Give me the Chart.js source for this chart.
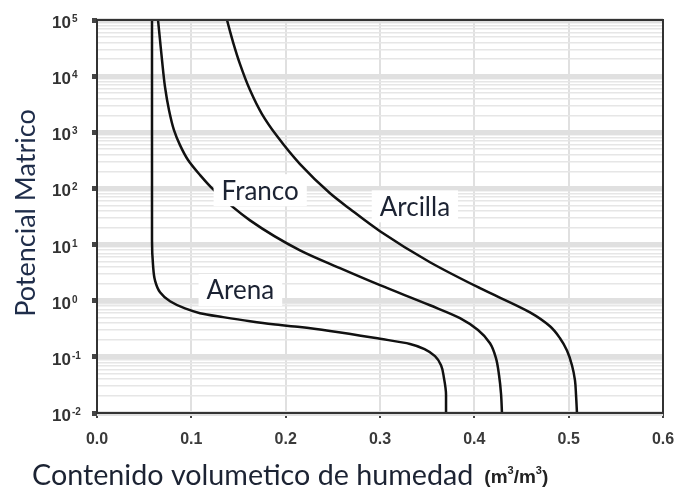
<!DOCTYPE html>
<html lang="es">
<head>
  <meta charset="UTF-8">
  <title>Curvas de retención de humedad</title>
  <!-- Chart.js -->
  <script src="https://cdn.jsdelivr.net/npm/chart.js"></script>
  <style>
    html, body { margin: 0; padding: 0; background: #fff; }
    #wrap { width: 677px; height: 494px; }
  </style>
</head>
<body>
  <div id="wrap"><canvas id="retChart" width="677" height="494"></canvas></div>

  <script>
    // contenido volumetrico (m3/m3) y potencial matrico
    const arenaTheta = [0.0583, 0.0583, 0.0583, 0.0594, 0.0615, 0.0668, 0.0774, 0.0933, 0.1092, 0.1336, 0.1622, 0.1866, 0.2152, 0.2470, 0.3000, 0.3318, 0.3477, 0.3583, 0.3647, 0.3678, 0.3700, 0.3700];
    const arenaPot   = [100000, 480, 12, 4.3, 2.3, 1.42, 0.98, 0.73, 0.60, 0.51, 0.43, 0.38, 0.34, 0.29, 0.21, 0.17, 0.136, 0.103, 0.071, 0.042, 0.021, 0.01];

    const francoTheta = [0.0647, 0.0668, 0.0689, 0.0721, 0.0763, 0.0816, 0.0880, 0.0965, 0.1092, 0.1240, 0.1622, 0.2152, 0.2576, 0.3000, 0.3530, 0.3848, 0.4039, 0.4166, 0.4230, 0.4262, 0.4283, 0.4293];
    const francoPot   = [100000, 44000, 19400, 6400, 2490, 1090, 590, 320, 173, 93, 27, 7.9, 3.8, 1.89, 0.83, 0.49, 0.30, 0.175, 0.094, 0.047, 0.022, 0.01];

    const arcillaTheta = [0.1378, 0.1442, 0.1516, 0.1622, 0.1749, 0.1908, 0.2152, 0.2470, 0.2682, 0.3000, 0.3530, 0.4060, 0.4590, 0.4802, 0.4908, 0.4982, 0.5035, 0.5067, 0.5078, 0.5088];
    const arcillaPot   = [100000, 40500, 16400, 5650, 2110, 855, 271, 82, 43, 17.3, 4.85, 1.67, 0.62, 0.35, 0.215, 0.13, 0.071, 0.038, 0.021, 0.01];

    const xTicks = [0, 0.1, 0.2, 0.3, 0.4, 0.5, 0.6];
    const yDecades = [0.01, 0.1, 1, 10, 100, 1000, 10000, 100000];
    const yTickExp = ['-2', '-1', '0', '1', '2', '3', '4', '5'];

    // etiquetas de las curvas: [texto, theta, potencial]
    const curveLabels = [
      ['Franco', 0.173, 93],
      ['Arcilla', 0.337, 48],
      ['Arena', 0.152, 1.55]
    ];

    function toPoints(xs, ys) {
      return xs.map((x, i) => ({ x: x, y: ys[i] }));
    }

    // lineas de la rejilla menor (1..9 por decada)
    const yGridValues = [];
    yDecades.forEach((d, i) => {
      if (i === yDecades.length - 1) { yGridValues.push(d); return; }
      for (let k = 1; k < 10; k++) yGridValues.push(+(d * k).toPrecision(3));
    });

    function decadeIndex(v) {
      return yDecades.findIndex(d => Math.abs(d - v) / d < 1e-6);
    }

    const curveStyle = {
      borderColor: '#111',
      borderWidth: 2.5,
      pointRadius: 0,
      fill: false,
      showLine: true,
      indexAxis: 'y',
      cubicInterpolationMode: 'monotone'
    };

    const labelsPlugin = {
      id: 'curveLabels',
      afterDatasetsDraw(chart) {
        const ctx = chart.ctx;
        const xs = chart.scales.x, ys = chart.scales.y;
        ctx.save();
        ctx.font = '26px Lato';
        ctx.textAlign = 'center';
        ctx.textBaseline = 'middle';
        curveLabels.forEach(l => {
          const px = xs.getPixelForValue(l[1]);
          const py = ys.getPixelForValue(l[2]);
          const w = ctx.measureText(l[0]).width;
          ctx.fillStyle = '#fff';
          ctx.fillRect(px - w / 2 - 8, py - 16, w + 16, 32);
          ctx.fillStyle = '#1c2333';
          ctx.fillText(l[0], px, py + 1);
        });
        ctx.restore();
      },
      afterDraw(chart) {
        const ctx = chart.ctx;
        const area = chart.chartArea;
        const ys = chart.scales.y;
        ctx.save();
        // etiquetas del eje y: 10 con exponente
        ctx.fillStyle = '#333';
        ctx.textBaseline = 'alphabetic';
        ctx.textAlign = 'left';
        yDecades.forEach((d, i) => {
          const py = ys.getPixelForValue(d);
          ctx.font = 'bold 17px "Liberation Sans"';
          ctx.fillText('10', 52, py + 8);
          const w10 = ctx.measureText('10').width;
          ctx.font = 'bold 10px "Liberation Sans"';
          ctx.fillText(yTickExp[i], 52 + w10 + 1, py + 2);
        });
        // titulo eje x
        const main = 'Contenido volumetico de humedad';
        const startX = 32;
        ctx.fillStyle = '#1c2333';
        ctx.font = '28.7px Lato';
        const w1 = ctx.measureText(main).width;
        ctx.fillText(main, startX, 485);
        let ux = startX + w1 + 11;
        const unitParts = [['(m', 0], ['3', 1], ['/m', 0], ['3', 1], [')', 0]];
        ctx.fillStyle = '#222';
        unitParts.forEach(p => {
          ctx.font = p[1] ? 'bold 11px "Liberation Sans"' : 'bold 19px "Liberation Sans"';
          ctx.fillText(p[0], ux, p[1] ? 474 : 483);
          ux += ctx.measureText(p[0]).width;
        });
        // titulo eje y
        ctx.translate(26, 213);
        ctx.rotate(-Math.PI / 2);
        ctx.font = '27px Lato';
        ctx.textAlign = 'center';
        ctx.textBaseline = 'middle';
        ctx.fillStyle = '#1f2d4a';
        ctx.fillText('Potencial Matrico', 0, 0);
        ctx.restore();
        // marco
        ctx.save();
        ctx.strokeStyle = '#333';
        ctx.lineWidth = 2;
        ctx.strokeRect(area.left, area.top, area.right - area.left, area.bottom - area.top);
        ctx.restore();
      }
    };

    new Chart(document.getElementById('retChart'), {
      type: 'scatter',
      data: {
        datasets: [
          Object.assign({ label: 'Arena', data: toPoints(arenaTheta, arenaPot) }, curveStyle),
          Object.assign({ label: 'Franco', data: toPoints(francoTheta, francoPot) }, curveStyle),
          Object.assign({ label: 'Arcilla', data: toPoints(arcillaTheta, arcillaPot) }, curveStyle)
        ]
      },
      options: {
        responsive: false,
        animation: false,
        layout: { padding: { top: 20, right: 14, left: 0, bottom: 0 } },
        plugins: {
          legend: { display: false },
          tooltip: { enabled: false }
        },
        scales: {
          x: {
            type: 'linear',
            min: 0,
            max: 0.6,
            afterBuildTicks: s => { s.ticks = xTicks.map(v => ({ value: v })); },
            afterFit: s => { s.height = 81; s.paddingRight = 0; s.paddingLeft = 0; },
            border: { display: false },
            grid: { color: '#e0e0e0', lineWidth: 2, tickLength: 5, tickColor: '#444' },
            ticks: {
              padding: 12,
              color: '#3a3a3a',
              font: { family: 'Liberation Sans', size: 16, weight: 'bold' },
              callback: v => v.toFixed(1)
            }
          },
          y: {
            type: 'logarithmic',
            min: 0.01,
            max: 100000,
            afterBuildTicks: s => { s.ticks = yGridValues.map(v => ({ value: v, major: decadeIndex(v) >= 0 })); },
            afterFit: s => { s.width = 97; s.paddingTop = 0; s.paddingBottom = 0; },
            border: { display: false },
            grid: {
              color: c => (c.tick && decadeIndex(c.tick.value) >= 0) ? '#e0e0e0' : '#e6e6e6',
              lineWidth: c => (c.tick && decadeIndex(c.tick.value) >= 0) ? 5 : 1.5,
              tickLength: 5,
              tickColor: c => (c.tick && decadeIndex(c.tick.value) >= 0) ? '#444' : 'rgba(0,0,0,0)'
            },
            ticks: {
              autoSkip: false,
              padding: 4,
              color: 'rgba(0,0,0,0)',
              font: { family: 'Liberation Sans', size: 13, weight: 'bold' },
              callback: v => ''
            }
          }
        }
      },
      plugins: [labelsPlugin]
    });
  </script>
</body>
</html>
